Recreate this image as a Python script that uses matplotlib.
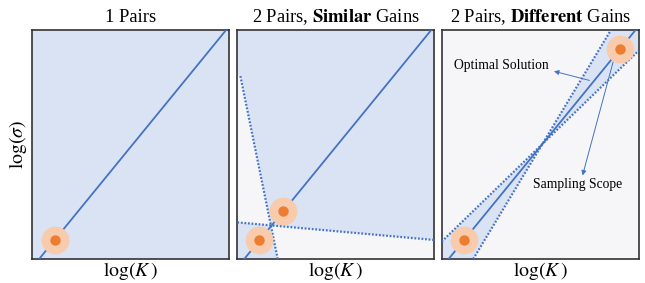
import numpy as np
import matplotlib
matplotlib.use("Agg")
import matplotlib.pyplot as plt

plt.rcParams['font.family'] = ['Liberation Serif', 'DejaVu Serif']
plt.rcParams['mathtext.fontset'] = 'stix'

# colours
BLUE = '#4472c4'
FILL = '#dae3f3'
GRAY = '#f6f6f8'
ORANGE = '#ed7d31'
HALO = '#f8cbad'

titles = ['1 Pairs', r'2 Pairs, $\bf{Similar}$ Gains', r'2 Pairs, $\bf{Different}$ Gains']

# optimal solution line (x values at y=0 and y=1), same in every panel
opt_x = [0.035, 0.984]
opt_y = [0.0, 1.0]

# sampled pairs per panel
pts_1 = [(0.114, 0.084)]
pts_2 = [(0.112, 0.084), (0.234, 0.21)]
pts_3 = [(0.114, 0.084), (0.904, 0.917)]

# dotted bounds of the sampling scope (two end points each)
bounds_2 = [((0.0, 0.16), (1.0, 0.083)), ((0.205, 0.0), (0.015, 0.80))]
bounds_3 = [((0.0, 0.076), (1.0, 0.91)), ((0.16, 0.0), (0.859, 1.0))]


def cross(l1, l2):
    (x1, y1), (x2, y2) = l1
    (x3, y3), (x4, y4) = l2
    a = np.array([[x2 - x1, -(x4 - x3)], [y2 - y1, -(y4 - y3)]])
    t = np.linalg.solve(a, [x3 - x1, y3 - y1])
    return x1 + t[0] * (x2 - x1), y1 + t[0] * (y2 - y1)


def setup(ax, bg):
    ax.set_xlim(0, 1)
    ax.set_ylim(0, 1)
    ax.set_facecolor(bg)
    ax.set_xticks([])
    ax.set_yticks([])
    for s in ax.spines.values():
        s.set_color('#333333')
        s.set_linewidth(1.2)
    ax.set_xlabel(r'$\log(K\,)$', fontsize=14.2, labelpad=1)


def draw_pairs(ax, pts):
    ax.plot(opt_x, opt_y, color=BLUE, lw=1.3, zorder=3)
    for x, y in pts:
        ax.plot(x, y, 'o', ms=20, color=HALO, mec='none', zorder=4)
        ax.plot(x, y, 'o', ms=7.5, color=ORANGE, mec='none', zorder=5)


def draw_bounds(ax, bounds):
    for (p, q) in bounds:
        ax.plot([p[0], q[0]], [p[1], q[1]], color=BLUE, lw=1.6,
                ls=(0, (0.8, 0.8)), zorder=3)


fig = plt.figure(figsize=(6.45, 2.83), dpi=100)
lefts = [0.050, 0.368, 0.6848]
axes = [fig.add_axes([l, 0.0848, 0.3054, 0.809]) for l in lefts]

# panel 1
ax = axes[0]
setup(ax, FILL)
draw_pairs(ax, pts_1)
ax.set_ylabel(r'$\log(\sigma)$', fontsize=14.2, labelpad=2)

# panel 2
ax = axes[1]
setup(ax, FILL)
h, s = bounds_2
cx, cy = cross(h, s)
ax.fill([h[0][0], cx, s[1][0], 0], [h[0][1], cy, s[1][1], s[1][1]], color=GRAY, lw=0, zorder=1)
ax.fill([cx, s[0][0], 1, h[1][0]], [cy, s[0][1], 0, h[1][1]], color=GRAY, lw=0, zorder=1)
draw_bounds(ax, bounds_2)
draw_pairs(ax, pts_2)

# panel 3
ax = axes[2]
setup(ax, GRAY)
a, b = bounds_3
cx, cy = cross(a, b)
ax.fill([0, a[0][0], cx, b[0][0]], [0, a[0][1], cy, b[0][1]], color=FILL, lw=0, zorder=1)
ax.fill([1, b[1][0], cx, a[1][0]], [1, b[1][1], cy, a[1][1]], color=FILL, lw=0, zorder=1)
draw_bounds(ax, bounds_3)
draw_pairs(ax, pts_3)

arrow = dict(arrowstyle='-|>', color=BLUE, lw=0.7, mutation_scale=7, shrinkA=0, shrinkB=0)
ax.text(0.06, 0.845, 'Optimal Solution', fontsize=9.8, va='center', ha='left')
ax.annotate('', xy=(0.57, 0.82), xytext=(0.75, 0.78), arrowprops=arrow)
ax.text(0.465, 0.325, 'Sampling Scope', fontsize=9.8, va='center', ha='left')
ax.annotate('', xy=(0.715, 0.365), xytext=(0.87, 0.86), arrowprops=arrow)

for ax, t in zip(axes, titles):
    ax.set_title(t, fontsize=13.3, pad=6)

fig.savefig('out.png', dpi=100)
